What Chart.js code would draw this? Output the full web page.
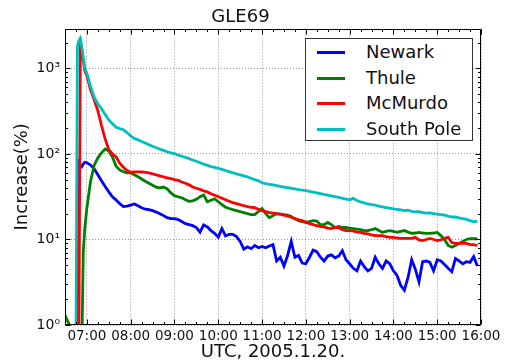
<!DOCTYPE html>
<html>
<head>
<meta charset="utf-8">
<script src="https://cdn.jsdelivr.net/npm/chart.js@4/dist/chart.umd.min.js"></script>
<style>
html, body { margin: 0; padding: 0; background: #fff; }
#wrap { position: relative; width: 506px; height: 363px; }
#legend { position: absolute; left: 305px; top: 38px; width: 166px; height: 101px;
  border: 1px solid #333; background: #fff; font: 18px "DejaVu Sans", sans-serif; color: #111; }
#legend .row { position: absolute; left: 0; height: 26px; width: 100%; }
#legend .row i { position: absolute; left: 11px; top: 12px; width: 28px; height: 3px; }
#legend .row span { position: absolute; left: 60px; top: 0; line-height: 26px; white-space: nowrap; }
</style>
</head>
<body>
<div id="wrap">
  <canvas id="c" width="506" height="363"></canvas>
  <div id="legend"></div>
</div>
<script>
// sample times (UTC)
var times = ['06:30','06:35','06:40','06:45','06:47','06:49','06:51','06:53','06:55','06:57',
  '07:00','07:05','07:10','07:15','07:20','07:25','07:30','07:35','07:40','07:45','07:50','07:55',
  '08:00','08:05','08:10','08:15','08:20','08:25','08:30','08:35','08:40','08:45','08:50','08:55',
  '09:00','09:05','09:10','09:15','09:20','09:25','09:30','09:35','09:40','09:45','09:50','09:55',
  '10:00','10:05','10:10','10:15','10:20','10:25','10:30','10:35','10:40','10:45','10:50','10:55',
  '11:00','11:05','11:10','11:15','11:20','11:25','11:30','11:35','11:40','11:45','11:50','11:55',
  '12:00','12:05','12:10','12:15','12:20','12:25','12:30','12:35','12:40','12:45','12:50','12:55',
  '13:00','13:05','13:10','13:15','13:20','13:25','13:30','13:35','13:40','13:45','13:50','13:55',
  '14:00','14:05','14:10','14:15','14:20','14:25','14:30','14:35','14:40','14:45','14:50','14:55',
  '15:00','15:05','15:10','15:15','15:20','15:25','15:30','15:35','15:40','15:45','15:50','15:55'];

// increase (%) per station
var newark = [0.5,0.5,0.5,0.5,0.5,80,74,71,76,80,
  79,74,67,57,48.6,41.5,36,31.6,29,26.2,24.2,24.5,
  25.2,26,24.8,23.5,22.6,22.3,21.7,20.9,20,19,18,17.5,
  17.5,17.1,16.2,15.3,14.9,14.5,13.8,12.2,14.8,14,12.7,11.8,
  10.6,13.4,11,11.5,11.5,10.8,9.5,7.7,8.2,7.8,8.5,8,
  8.3,8,8.4,8.7,5.6,6.2,4.9,6.5,9.5,6.2,6.5,5.3,
  5.2,6.2,7.5,7.2,6.2,5.6,6.4,6.6,6.1,6.4,7.4,5.8,
  5.2,4.6,4.3,5.6,4.8,4.3,4.6,6.2,5.2,4.6,5.6,5.2,
  4.3,3.8,2.9,2.55,3.6,5.8,4.5,3.2,5.5,5.6,5.4,4.3,
  5.8,5.6,5.1,4.6,4.2,6,5.6,5.2,5.5,5.4,6.3,4.9];
var thule = [1.3,1.05,0.7,0.5,0.5,0.5,0.5,0.5,7,13,
  23.5,48,74,90,103,114,108,92,72,65,62,60,
  60,57,54,51,48,45.5,43,41,40,41,39,35,
  32.5,31.6,30.7,29.1,28,28.3,29.5,31.6,33,27.6,28.8,29.9,
  27.6,25.5,23.8,23,22.3,21.7,21.2,20.6,20,19.5,19.5,21.2,
  23,20,18,19,20,19.8,19.5,19.3,18.5,17.5,16.6,16.2,
  15.8,16.2,16.6,16.4,14.9,14.9,15.8,14.9,13.8,14.2,13.8,13.8,
  13.6,13.4,13.2,13,12.7,12.7,13,13.4,12.7,12.1,12.4,12.7,
  12.4,12.1,12.4,12.7,12.2,11.8,11.9,12.1,11.9,11.8,11.8,11.9,
  12.1,11.1,10,8.5,8.1,8.5,9,9.5,10,10.2,10.2,10.2];
var mcmurdo = [0.5,0.5,0.5,0.5,0.5,0.6,1750,1500,1250,950,
  820,560,430,320,215,150,112,100,92,78,70,64,
  61,61.7,61.7,61.7,60.9,60,58.5,57,55.5,54,52.6,51.3,
  50,49,47,45.5,43.5,41,39.7,38.5,37,36,34.3,32.9,
  31.6,30.3,29.1,28,27,26.2,25.5,24.8,24.2,23.8,23.5,22.6,
  21.7,21.2,20.6,20.3,20,19.8,19.2,18.8,18.2,17.5,17,16.6,
  16,15.3,14.9,14.5,14.1,14,13.6,13.4,13.8,13.8,13,12.7,
  12.7,12.6,12.2,12.1,11.8,11.6,11.3,11.1,11.1,11.1,10.8,10.6,
  10.6,10.4,10.3,10.3,10.3,10.3,10.6,9.9,9.7,10,10.3,10,
  9.7,9.9,10.3,10.6,9.2,9,9,9,9,8.7,8.7,8.5];
var southPole = [0.5,0.5,0.5,0.5,1800,2100,2250,1800,1350,1000,
  880,620,460,385,340,290,250,225,205,198,192,178,
  162,152,146,140,134,128,123,118,114,110,106,103,
  101,97,94,91,88,85,82,79,76,73.5,71,69.5,
  68,66,64,62,60,58.5,57,55.5,54,52,50,48.5,
  46,45,44.2,43.4,42.6,41.8,41,40.3,39.7,39,38.3,37.8,
  37.2,36.4,35.7,35,34.3,33.6,33,32.3,31.6,31,30.3,29.7,
  29.1,30.2,28.5,27.5,26.8,26,25.5,25.2,24.6,24,23.6,23.2,
  22.8,22.5,22.2,21.8,22,21.3,21,21.2,20.6,20.3,20.4,20,
  19.8,19.5,19.2,18.7,18.3,18.4,17.9,17.5,17.2,16.6,16.1,16.4];

var stations = ['Newark', 'Thule', 'McMurdo', 'South Pole'];
var colors = ['#0000ff', '#008000', '#ff0000', '#00bfbf'];
var hourLabels = ['07:00','08:00','09:00','10:00','11:00','12:00','13:00','14:00','15:00','16:00'];
var yTickValues = [1, 10, 100, 1000];
var yTickLabels = ['10\u2070', '10\u00b9', '10\u00b2', '10\u00b3'];

function toMin(t) {
  var p = t.split(':');
  return parseInt(p[0], 10) * 60 + parseInt(p[1], 10);
}
function fmt(m) {
  var h = Math.floor(m / 60), mm = m % 60;
  return (h < 10 ? '0' : '') + h + ':' + (mm < 10 ? '0' : '') + mm;
}

var series = [newark, thule, mcmurdo, southPole];
var datasets = series.map(function(vals, i) {
  return {
    label: stations[i],
    data: times.map(function(t, j) { return {x: toMin(t), y: vals[j]}; }),
    borderColor: colors[i],
    backgroundColor: colors[i],
    borderWidth: 2.8,
    pointRadius: 0,
    fill: false,
    order: 3 - i
  };
});

// matplotlib-like box with inward ticks
var frame = {
  id: 'frame',
  afterDatasetsDraw: function(chart) {
    var ctx = chart.ctx, a = chart.chartArea, x = chart.scales.x, y = chart.scales.y;
    ctx.save();
    ctx.strokeStyle = '#000';
    ctx.lineWidth = 1;
    var L = Math.round(a.left) + 0.5, R = Math.round(a.right) - 0.5;
    var T = Math.round(a.top) + 0.5, B = Math.round(a.bottom) - 0.5;
    ctx.strokeRect(L, T, R - L, B - T);
    ctx.beginPath();
    for (var m = 390; m <= 960; m += 15) {
      var px = Math.round(x.getPixelForValue(m)) + 0.5;
      var len = (m % 60 === 0) ? 5 : 2.5;
      ctx.moveTo(px, B); ctx.lineTo(px, B - len);
      ctx.moveTo(px, T); ctx.lineTo(px, T + len);
    }
    for (var d = 1; d <= 1000; d *= 10) {
      for (var k = 1; k <= 9; k++) {
        var v = d * k;
        if (v > y.max) break;
        var py = Math.round(y.getPixelForValue(v)) + 0.5;
        var l2 = (k === 1) ? 5 : 2.5;
        ctx.moveTo(L, py); ctx.lineTo(L + l2, py);
        ctx.moveTo(R, py); ctx.lineTo(R - l2, py);
      }
    }
    ctx.stroke();
    ctx.restore();
  }
};

var font = 'DejaVu Sans';
var chart = new Chart(document.getElementById('c'), {
  type: 'line',
  data: { datasets: datasets },
  options: {
    responsive: false,
    animation: false,
    layout: { padding: { left: 0, right: 25, top: 0, bottom: 0 } },
    plugins: {
      legend: { display: false },
      tooltip: { enabled: false },
      title: { display: true, text: 'GLE69', color: '#111',
        font: { family: font, size: 18, weight: 'normal' }, padding: { top: 7, bottom: 0 } }
    },
    scales: {
      x: {
        type: 'linear', min: 390, max: 960,
        afterBuildTicks: function(s) { s.ticks = hourLabels.map(function(h) { return {value: toMin(h)}; }); },
        afterFit: function(s) { s.height = 38; },
        ticks: { autoSkip: false, maxRotation: 0, padding: 3, color: '#111',
          font: { family: font, size: 13.5 },
          callback: function(v) { return fmt(v); } },
        grid: { color: 'rgba(0,0,0,0.5)', lineWidth: 0.8, drawTicks: false },
        border: { display: false, dash: [1, 2] },
        title: { display: true, text: 'UTC, 2005.1.20.', color: '#111',
          font: { family: font, size: 18 }, padding: { top: 0, bottom: 0 } }
      },
      y: {
        type: 'logarithmic', min: 1, max: 2920,
        afterBuildTicks: function(s) { s.ticks = yTickValues.map(function(v) { return {value: v}; }); },
        afterFit: function(s) { s.width = 65; },
        ticks: { autoSkip: false, padding: 5, color: '#111',
          font: { family: font, size: 14 },
          callback: function(v) { var i = yTickValues.indexOf(v); return i < 0 ? '' : yTickLabels[i]; } },
        grid: { color: 'rgba(0,0,0,0.5)', lineWidth: 0.8, drawTicks: false },
        border: { display: false, dash: [1, 2] },
        title: { display: true, text: 'Increase(%)', color: '#111',
          font: { family: font, size: 18 }, padding: { top: 12, bottom: 0 } }
      }
    }
  },
  plugins: [frame]
});

// legend box inside the axes
var lg = document.getElementById('legend');
chart.data.datasets.forEach(function(ds, i) {
  var row = document.createElement('div');
  row.className = 'row';
  row.style.top = (i * 25.7) + 'px';
  var sw = document.createElement('i');
  sw.style.background = ds.borderColor;
  var tx = document.createElement('span');
  tx.textContent = ds.label;
  row.appendChild(sw);
  row.appendChild(tx);
  lg.appendChild(row);
});
</script>
</body>
</html>
